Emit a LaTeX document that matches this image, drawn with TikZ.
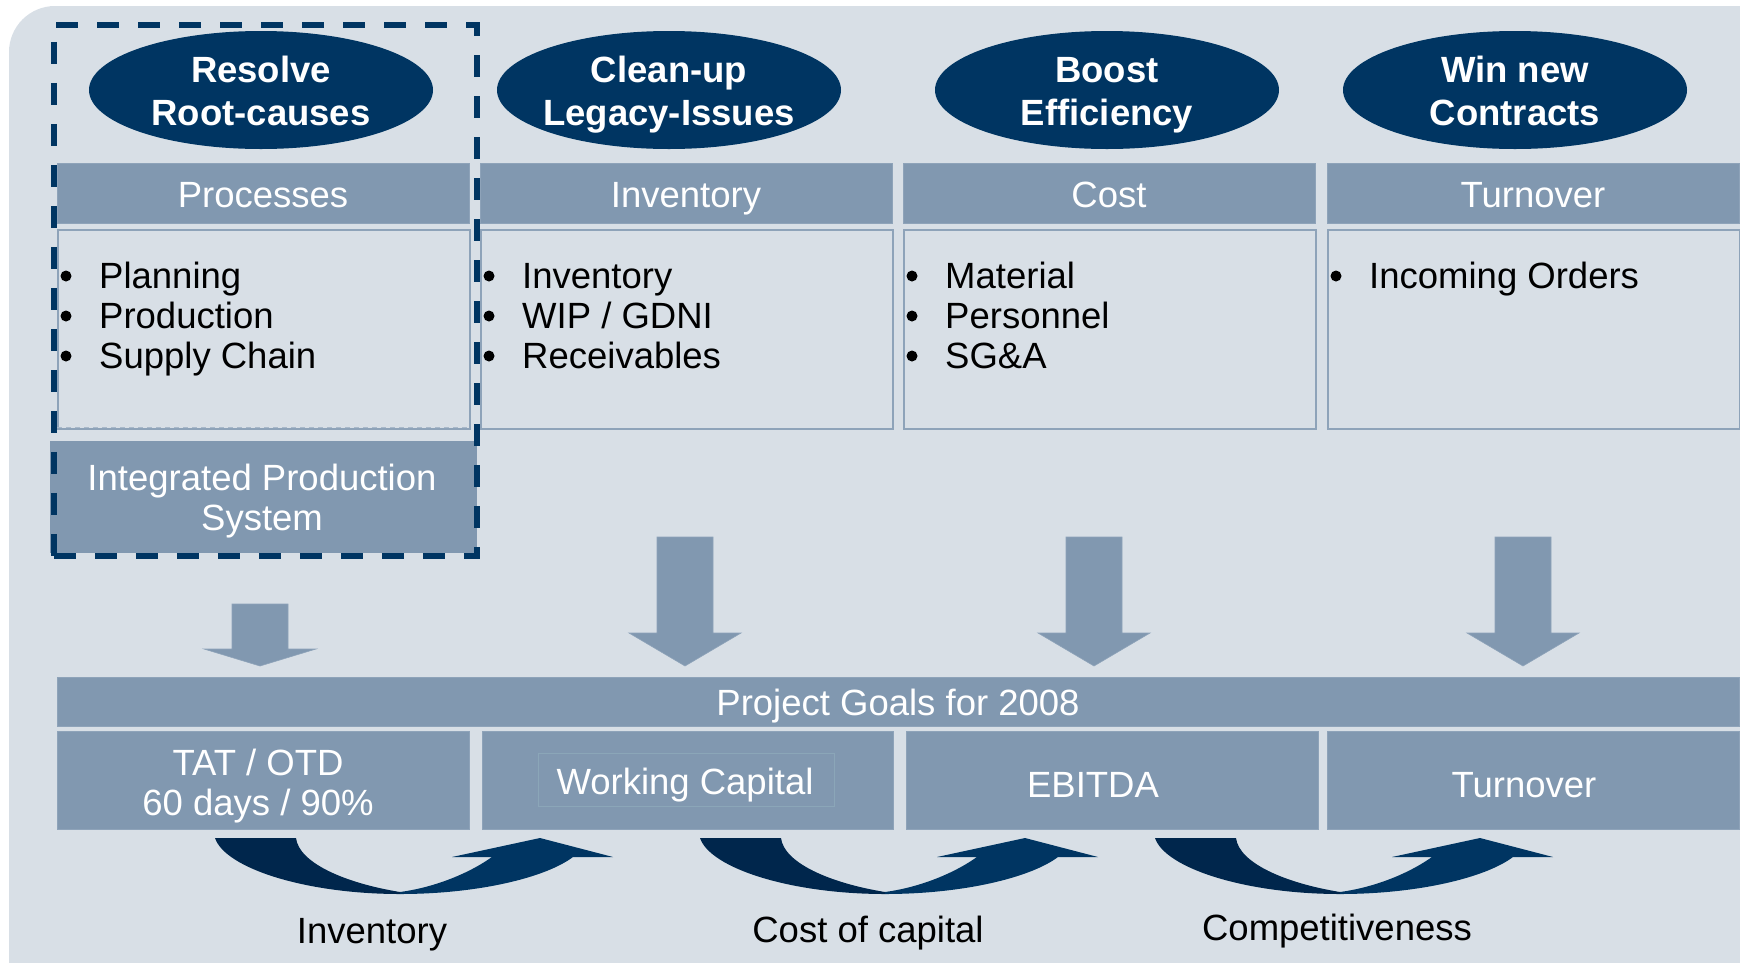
\documentclass[tikz,border=0pt]{standalone}
\usepackage{fontspec}
\setmainfont{Liberation Sans}
\usetikzlibrary{shapes.geometric}

\definecolor{panelbg}{HTML}{D8DFE6}
\definecolor{steel}{HTML}{8198B0}
\definecolor{steelline}{HTML}{8EA3B9}
\definecolor{navy}{HTML}{003562}
\definecolor{navydeep}{HTML}{00264C}
\definecolor{wcframe}{HTML}{8BA6B8}
\definecolor{seamline}{HTML}{A9B9CA}

\tikzset{
  basefont/.style={font=\fontsize{36.5}{40}\selectfont},
  themeell/.style={ellipse, fill=navy, minimum width=344pt, minimum height=118pt, inner sep=0pt},
  themetxt/.style={anchor=base, inner sep=0pt, text=white, font=\bfseries\fontsize{36.5}{43}\selectfont},
  hdrbar/.style={rectangle, anchor=north west, fill=steel, draw=steelline, line width=0.8pt,
                 minimum width=412pt, minimum height=60pt, inner sep=0pt},
  listbox/.style={rectangle, anchor=north west, draw=steelline, line width=1.5pt,
                  minimum width=412pt, minimum height=199pt, inner sep=0pt},
  goalbox/.style={rectangle, anchor=north west, fill=steel, draw=steelline, line width=0.8pt,
                  minimum height=98pt, inner sep=0pt},
  whitetxt/.style={basefont, anchor=base, inner sep=0pt, text=white},
  blacktxt/.style={basefont, anchor=base, inner sep=0pt, text=black},
  itemtxt/.style={basefont, anchor=base west, inner sep=0pt, text=black},
  bulletdot/.style={circle, fill=black, minimum size=11pt, inner sep=0pt},
  blockarrow/.style={fill=steel, draw=steelline, line width=0.6pt},
  focusframe/.style={rectangle, anchor=north west, draw=navy, line width=5.5pt,
                     dash pattern=on 22pt off 19pt, inner sep=0pt},
}

% block arrow pointing down: centre x, shaft top, head base
\newcommand\DownBlock[3]{%
  \draw[blockarrow] (#1-28,#2) -- (#1+28,#2) -- (#1+28,#3) -- (#1+56,#3)
    -- (#1,666) -- (#1-56,#3) -- (#1-28,#3) -- cycle;}

% swooping arrow below the goal boxes, starting at x = #1
\newcommand\SwoopArrow[1]{%
  \begin{scope}[shift={(#1,838)}]
    \fill[navydeep] (0,0) .. controls (10,30) and (90,56) .. (185,56) -- (185,54)
      .. controls (130,45) and (84,25) .. (81,0) -- cycle;
    \fill[navy] (185,56) .. controls (262,56) and (330,40) .. (358,19) -- (398,19)
      -- (325,0) -- (237,19) -- (277,19) .. controls (250,38) and (215,50) .. (185,54)
      -- cycle;
  \end{scope}}

\begin{document}
\begin{tikzpicture}[x=1pt,y=-1pt]
\useasboundingbox (0,0) rectangle (1740,962);

% panel background
\begin{scope}
  \clip (0,0) rectangle (1740,962);
  \fill[panelbg, rounded corners=46pt] (9,6) rectangle (1800,1020);
\end{scope}

% theme ellipses
\node[themeell] (e1) at (261,90) {};
\node[themeell] (e2) at (669,90) {};
\node[themeell] (e3) at (1107,90) {};
\node[themeell] (e4) at (1515,90) {};
\node[themetxt] (e1a) at (261,82) {Resolve};
\node[themetxt] (e1b) at (261,125) {Root-causes};
\node[themetxt] (e2a) at (669,82) {Clean-up};
\node[themetxt] (e2b) at (669,125) {Legacy-Issues};
\node[themetxt] (e3a) at (1107,82) {Boost};
\node[themetxt] (e3b) at (1107,125) {Efficiency};
\node[themetxt] (e4a) at (1515,82) {Win new};
\node[themetxt] (e4b) at (1515,125) {Contracts};

% column headers and lists
\node[hdrbar] (h1) at (57,163) {};
\node[hdrbar] (h2) at (480,163) {};
\node[hdrbar] (h3) at (903,163) {};
\node[hdrbar] (h4) at (1327,163) {};
\node[whitetxt] (h1t) at (263,207) {Processes};
\node[whitetxt] (h2t) at (686,207) {Inventory};
\node[whitetxt] (h3t) at (1109,207) {Cost};
\node[whitetxt] (h4t) at (1533,207) {Turnover};

\node[listbox] (l1) at (57,229) {};
\node[listbox] (l2) at (480,229) {};
\node[listbox] (l3) at (903,229) {};
\node[listbox] (l4) at (1327,229) {};
\draw[seamline, line width=1pt, dash pattern=on 5pt off 4pt]
  ([yshift=2.5pt]l1.south west) -- ([yshift=2.5pt]l1.south east);

% bullet items
\foreach \col/\xl in {1/57,2/480,3/903,4/1327}{
  \ifnum\col<4
    \foreach \row/\yb in {1/288,2/328,3/368}{
      \node[bulletdot] (d\col-\row) at (\xl+9,\yb-12) {};
    }
  \else
    \node[bulletdot] (d\col-1) at (\xl+9,276) {};
  \fi
}
\node[itemtxt] (i1-1) at (99,288) {Planning};
\node[itemtxt] (i1-2) at (99,328) {Production};
\node[itemtxt] (i1-3) at (99,368) {Supply Chain};
\node[itemtxt] (i2-1) at (522,288) {Inventory};
\node[itemtxt] (i2-2) at (522,328) {WIP / GDNI};
\node[itemtxt] (i2-3) at (522,368) {Receivables};
\node[itemtxt] (i3-1) at (945,288) {Material};
\node[itemtxt] (i3-2) at (945,328) {Personnel};
\node[itemtxt] (i3-3) at (945,368) {SG\&A};
\node[itemtxt] (i4-1) at (1369,288) {Incoming Orders};

% integrated production system
\node[rectangle, anchor=north west, fill=steel, minimum width=427pt, minimum height=112pt,
      inner sep=0pt] (ips) at (50,441) {};
\node[whitetxt] (ipsa) at (262,490) {Integrated Production};
\node[whitetxt] (ipsb) at (262,530) {System};

% block arrows towards the goals
\DownBlock{260}{604}{649}
\DownBlock{685}{537}{633}
\DownBlock{1094}{537}{633}
\DownBlock{1523}{537}{633}

% project goals
\node[rectangle, anchor=north west, fill=steel, draw=steelline, line width=0.8pt,
      minimum width=1682pt, minimum height=49pt, inner sep=0pt] (goals) at (57,677) {};
\node[whitetxt] (goalst) at (898,715) {Project Goals for 2008};

\node[goalbox, minimum width=412pt] (g1) at (57,731) {};
\node[goalbox, minimum width=411pt] (g2) at (482,731) {};
\node[goalbox, minimum width=412pt] (g3) at (906,731) {};
\node[goalbox, minimum width=412pt] (g4) at (1327,731) {};
\node[whitetxt] (g1a) at (258,775) {TAT / OTD};
\node[whitetxt] (g1b) at (258,815) {60 days / 90\%};
\node[rectangle, anchor=north west, draw=wcframe, line width=0.8pt, minimum width=296pt,
      minimum height=53pt, inner sep=0pt] (wcf) at (538,753) {};
\node[whitetxt] (g2t) at (685,794) {Working Capital};
\node[whitetxt] (g3t) at (1093,797) {EBITDA};
\node[whitetxt] (g4t) at (1524,797) {Turnover};

% swooping arrows and their labels
\SwoopArrow{215}
\SwoopArrow{700}
\SwoopArrow{1155}
\node[blacktxt] (s1) at (372,943) {Inventory};
\node[blacktxt] (s2) at (868,942) {Cost of capital};
\node[blacktxt] (s3) at (1337,940) {Competitiveness};

% dashed focus frame round the first column
\node[focusframe, minimum width=423pt, minimum height=531pt] (frame) at (51,22) {};
\end{tikzpicture}
\end{document}
